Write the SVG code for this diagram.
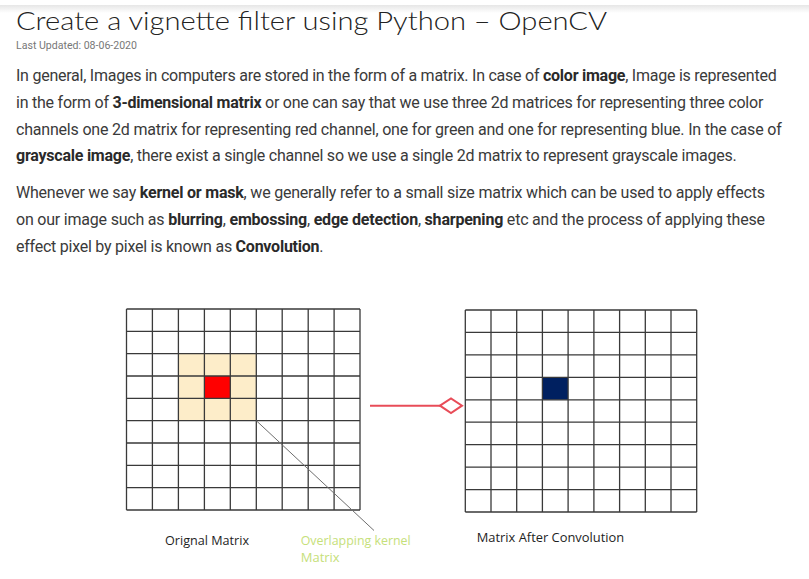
<svg xmlns="http://www.w3.org/2000/svg" width="809" height="579" viewBox="0 0 809 579">
<defs>
<linearGradient id="shadow" x1="0" y1="0" x2="0" y2="1">
<stop offset="0" stop-color="#e6e6e6"/>
<stop offset="1" stop-color="#ffffff"/>
</linearGradient>
</defs>
<style>
.body{font-family:Roboto,"Liberation Sans",sans-serif;font-size:16px;fill:#3a3a3a}
.b{font-weight:bold;fill:#2a2a2a}
.grid{fill:none;stroke:#3a3a3a;stroke-width:1.3}
.lbl{font-family:"Open Sans","Liberation Sans",sans-serif;font-size:13.5px;fill:#1e1e1e}
.green{fill:#c6e07a}
</style>
<rect width="809" height="579" fill="#ffffff"/>
<rect x="0" y="5" width="809" height="8" fill="url(#shadow)"/>
<text x="16" y="30" font-family="Lato,'Open Sans',sans-serif" font-weight="300" font-size="25" fill="#222" textLength="591" lengthAdjust="spacingAndGlyphs">Create a vignette filter using Python – OpenCV</text>
<text x="16" y="48.5" font-family="Roboto,'Liberation Sans',sans-serif" font-size="10.5" fill="#777" textLength="121" lengthAdjust="spacingAndGlyphs">Last Updated: 08-06-2020</text>
<g id="para1">
<text class="body" x="16" y="81" textLength="760.7" lengthAdjust="spacing">In general, Images in computers are stored in the form of a matrix. In case of <tspan class="b">color image</tspan>, Image is represented</text>
<text class="body" x="16" y="108" textLength="747.3" lengthAdjust="spacing">in the form of <tspan class="b">3-dimensional matrix</tspan> or one can say that we use three 2d matrices for representing three color</text>
<text class="body" x="16" y="134.5" textLength="765.7" lengthAdjust="spacing">channels one 2d matrix for representing red channel, one for green and one for representing blue. In the case of</text>
<text class="body" x="16" y="161" textLength="720.7" lengthAdjust="spacing"><tspan class="b">grayscale image</tspan>, there exist a single channel so we use a single 2d matrix to represent grayscale images.</text>
</g>
<g id="para2">
<text class="body" x="16" y="198" textLength="749" lengthAdjust="spacing">Whenever we say <tspan class="b">kernel or mask</tspan>, we generally refer to a small size matrix which can be used to apply effects</text>
<text class="body" x="16" y="225" textLength="749" lengthAdjust="spacing">on our image such as <tspan class="b">blurring</tspan>, <tspan class="b">embossing</tspan>, <tspan class="b">edge detection</tspan>, <tspan class="b">sharpening</tspan> etc and the process of applying these</text>
<text class="body" x="16" y="251.5" textLength="307.5" lengthAdjust="spacing">effect pixel by pixel is known as <tspan class="b">Convolution</tspan>.</text>
</g>
<g id="original-matrix">
<rect x="178.4" y="353.7" width="77.9" height="67" fill="#fdedc9"/>
<rect x="204.4" y="376" width="25.9" height="22.3" fill="#ff0000"/>
<path class="grid" d="M126.5 309H360M126.5 331.3H360M126.5 353.7H360M126.5 376H360M126.5 398.3H360M126.5 420.7H360M126.5 443H360M126.5 465.3H360M126.5 487.7H360M126.5 510H360M126.5 309V510M152.4 309V510M178.4 309V510M204.4 309V510M230.3 309V510M256.3 309V510M282.2 309V510M308.2 309V510M334.1 309V510M360 309V510"/>
</g>
<g id="result-matrix">
<rect x="542.4" y="377.3" width="25.7" height="22.4" fill="#002060"/>
<path class="grid" d="M465.3 310H696.7M465.3 332.4H696.7M465.3 354.9H696.7M465.3 377.3H696.7M465.3 399.8H696.7M465.3 422.2H696.7M465.3 444.7H696.7M465.3 467.1H696.7M465.3 489.6H696.7M465.3 512H696.7M465.3 310V512M491 310V512M516.7 310V512M542.4 310V512M568.1 310V512M593.9 310V512M619.6 310V512M645.3 310V512M671 310V512M696.7 310V512"/>
</g>
<g id="connectors">
<line x1="370" y1="405.7" x2="440" y2="405.7" stroke="#e84c58" stroke-width="2"/>
<polygon points="440,405.7 451,398.5 462,405.7 451,413" fill="#ffffff" stroke="#e84c58" stroke-width="2"/>
<line x1="256.3" y1="420.7" x2="374" y2="530.5" stroke="#6e6e6e" stroke-width="1"/>
</g>
<g id="labels">
<text class="lbl" x="165" y="545" textLength="84" lengthAdjust="spacingAndGlyphs">Orignal Matrix</text>
<text class="lbl green" x="300.7" y="545" textLength="110" lengthAdjust="spacingAndGlyphs">Overlapping kernel</text>
<text class="lbl green" x="300.7" y="562.3" textLength="39" lengthAdjust="spacingAndGlyphs">Matrix</text>
<text class="lbl" x="476.7" y="542.3" textLength="147.5" lengthAdjust="spacingAndGlyphs">Matrix After Convolution</text>
</g>
</svg>
